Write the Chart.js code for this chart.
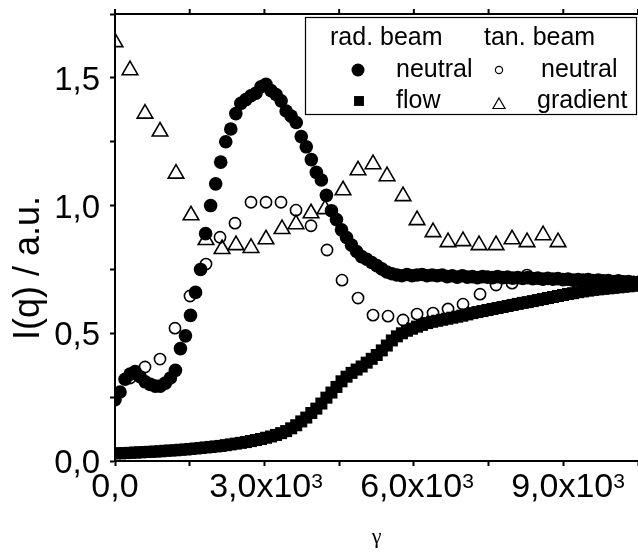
<!DOCTYPE html>
<html>
<head>
<meta charset="utf-8">
<script src="https://cdn.jsdelivr.net/npm/chart.js@4.4.1/dist/chart.umd.min.js"></script>
<style>
  html, body { margin: 0; padding: 0; background: #fff; }
</style>
</head>
<body>
<canvas id="intensity-chart" width="638" height="556"></canvas>
<script>
// radial beam, neutral direction (dense series)
const radNeutralX = [
  0, 100, 200, 300, 400, 500, 600, 700, 800, 900,
  1000, 1100, 1200, 1300, 1400, 1500, 1600, 1700, 1800, 1900,
  2000, 2100, 2200, 2300, 2400, 2500, 2600, 2700, 2800, 2900,
  3000, 3100, 3200, 3300, 3400, 3500, 3600, 3700, 3800, 3900,
  4000, 4100, 4200, 4300, 4400, 4500, 4600, 4700, 4800, 4900,
  5000, 5100, 5200, 5300, 5400, 5500, 5600, 5700, 5800, 5900,
  6000, 6100, 6200, 6300, 6400, 6500, 6600, 6700, 6800, 6900,
  7000, 7100, 7200, 7300, 7400, 7500, 7600, 7700, 7800, 7900,
  8000, 8100, 8200, 8300, 8400, 8500, 8600, 8700, 8800, 8900,
  9000, 9100, 9200, 9300, 9400, 9500, 9600, 9700, 9800, 9900,
  10000, 10100, 10200, 10300, 10400
];
const radNeutralY = [
  0.24, 0.27, 0.32, 0.34, 0.35, 0.33, 0.31, 0.30, 0.293, 0.293,
  0.305, 0.325, 0.355, 0.44, 0.49, 0.57, 0.66, 0.75, 0.89, 1.00,
  1.085, 1.17, 1.25, 1.30, 1.36, 1.40, 1.415, 1.43, 1.44, 1.465,
  1.475, 1.45, 1.435, 1.41, 1.37, 1.35, 1.325, 1.27, 1.23, 1.18,
  1.13, 1.10, 1.04, 0.98, 0.945, 0.905, 0.875, 0.845, 0.82, 0.80,
  0.79, 0.777, 0.765, 0.752, 0.74, 0.733, 0.728, 0.725, 0.73, 0.725,
  0.728, 0.73, 0.725, 0.728, 0.725, 0.728, 0.722, 0.725, 0.72, 0.725,
  0.72, 0.722, 0.718, 0.722, 0.72, 0.718, 0.722, 0.718, 0.72, 0.716,
  0.718, 0.715, 0.718, 0.714, 0.716, 0.712, 0.715, 0.712, 0.714, 0.71,
  0.712, 0.708, 0.71, 0.708, 0.71, 0.706, 0.708, 0.705, 0.706, 0.703,
  0.705, 0.702, 0.703, 0.70, 0.70
];

// radial beam, flow direction
const radFlowX = radNeutralX;
const radFlowY = [
  0.030, 0.030, 0.031, 0.032, 0.033, 0.034, 0.035, 0.036, 0.037, 0.038,
  0.040, 0.041, 0.042, 0.044, 0.045, 0.047, 0.049, 0.051, 0.053, 0.055,
  0.057, 0.059, 0.062, 0.065, 0.068, 0.071, 0.074, 0.078, 0.082, 0.086,
  0.091, 0.096, 0.102, 0.109, 0.117, 0.128, 0.140, 0.155, 0.170, 0.188,
  0.205, 0.225, 0.248, 0.268, 0.290, 0.312, 0.330, 0.345, 0.358, 0.370,
  0.385, 0.400, 0.415, 0.433, 0.452, 0.472, 0.488, 0.500, 0.510, 0.518,
  0.526, 0.533, 0.540, 0.545, 0.549, 0.553, 0.557, 0.561, 0.565, 0.569,
  0.574, 0.579, 0.583, 0.587, 0.591, 0.595, 0.599, 0.603, 0.607, 0.611,
  0.615, 0.619, 0.622, 0.626, 0.630, 0.634, 0.638, 0.642, 0.646, 0.650,
  0.654, 0.657, 0.661, 0.664, 0.667, 0.670, 0.672, 0.674, 0.676, 0.678,
  0.680, 0.682, 0.684, 0.686, 0.688
];

// tangential beam, neutral direction
const tanNeutralX = [298, 596, 894, 1192, 1490, 1808, 2086, 2384, 2702, 3000, 3298, 3596, 3894, 4212,
                     4510, 4828, 5126, 5424, 5722, 6001, 6318, 6616, 6914, 7252, 7570, 7888, 8186];
const tanNeutralY = [0.325, 0.368, 0.399, 0.520, 0.646, 0.771, 0.876, 0.931, 1.013, 1.013, 1.013, 0.982, 0.921, 0.826,
                     0.708, 0.638, 0.571, 0.567, 0.552, 0.575, 0.579, 0.595, 0.614, 0.653, 0.689, 0.696, 0.728];

// tangential beam, gradient direction
const tanGradX = [0, 298, 596, 894, 1212, 1510, 1808, 2126, 2404, 2702, 3000, 3318, 3596, 3894, 4172,
                  4530, 4828, 5126, 5404, 5722, 6001, 6318, 6616, 6914, 7232, 7570, 7888, 8186, 8504, 8802];
const tanGradY = [1.64, 1.53, 1.36, 1.29, 1.125, 0.962, 0.865, 0.83, 0.845, 0.834, 0.868, 0.908, 0.927, 0.97, 0.986,
                  1.06, 1.138, 1.162, 1.115, 1.037, 0.943, 0.896, 0.857, 0.861, 0.845, 0.845, 0.868, 0.857, 0.884, 0.857];

// tick labels: mantissa and exponent for the x axis
const xTicks = [0, 3000, 6000, 9000];
const xTickText = ['0,0', '3,0x10', '6,0x10', '9,0x10'];
const xTickExp = ['', '3', '3', '3'];
const yTicks = [0, 0.5, 1.0, 1.5];
const yTickLabels = ['0,0', '0,5', '1,0', '1,5'];

const SANS = "'Liberation Sans', Arial, sans-serif";

function pts(xs, ys) {
  return xs.map((x, i) => ({ x: x, y: ys[i] }));
}

// tick labels, top frame, legend box and axis titles
const annotations = {
  id: 'annotations',
  afterDraw(chart) {
    const ctx = chart.ctx;
    const area = chart.chartArea;
    const sx = chart.scales.x;
    const sy = chart.scales.y;
    const draw = Chart.helpers.drawPoint;
    ctx.save();

    // top frame line with outward ticks
    ctx.strokeStyle = '#000';
    ctx.lineWidth = 2;
    ctx.beginPath();
    ctx.moveTo(area.left - 1, area.top);
    ctx.lineTo(area.right, area.top);
    sx.ticks.forEach((t) => {
      const px = sx.getPixelForValue(t.value);
      ctx.moveTo(px, area.top);
      ctx.lineTo(px, area.top - 5);
    });
    ctx.stroke();

    // x tick labels with raised exponent
    ctx.fillStyle = '#000';
    ctx.textBaseline = 'alphabetic';
    ctx.textAlign = 'left';
    xTicks.forEach((v, i) => {
      const px = sx.getPixelForValue(v);
      ctx.font = '34px ' + SANS;
      const w1 = ctx.measureText(xTickText[i]).width;
      ctx.font = '21px ' + SANS;
      const w2 = xTickExp[i] ? ctx.measureText(xTickExp[i]).width : 0;
      const x0 = px - (w1 + w2) / 2;
      ctx.font = '34px ' + SANS;
      ctx.fillText(xTickText[i], x0, 497);
      if (xTickExp[i]) {
        ctx.font = '21px ' + SANS;
        ctx.fillText(xTickExp[i], x0 + w1, 488);
      }
    });

    // y tick labels
    ctx.font = '33px ' + SANS;
    ctx.textAlign = 'right';
    yTicks.forEach((v, i) => {
      ctx.fillText(yTickLabels[i], 100, sy.getPixelForValue(v) + 12);
    });

    // legend frame
    ctx.fillStyle = '#fff';
    ctx.fillRect(305, 17, 332, 98);
    ctx.strokeStyle = '#000';
    ctx.lineWidth = 1.2;
    ctx.strokeRect(305.5, 17.5, 331, 97);

    ctx.fillStyle = '#000';
    ctx.font = '25px ' + SANS;
    ctx.textAlign = 'left';
    ctx.fillText('rad. beam', 330, 45);
    ctx.fillText('tan. beam', 484, 45);
    ctx.fillText('neutral', 396, 77);
    ctx.fillText('neutral', 541, 77);
    ctx.fillText('flow', 396, 108);
    ctx.fillText('gradient', 537, 108);

    draw(ctx, { pointStyle: 'circle', radius: 6.5, borderWidth: 0, rotation: 0 }, 358, 70);
    draw(ctx, { pointStyle: 'rect', radius: 7, borderWidth: 0, rotation: 0 }, 359, 101);
    ctx.fillStyle = 'rgba(0,0,0,0)';
    ctx.lineWidth = 1.2;
    draw(ctx, { pointStyle: 'circle', radius: 3.6, borderWidth: 1.2, rotation: 0 }, 499, 70);
    draw(ctx, { pointStyle: 'triangle', radius: 7, borderWidth: 1.2, rotation: 0 }, 499, 105);

    // axis titles
    ctx.fillStyle = '#000';
    ctx.font = '22px "Liberation Serif", "Times New Roman", serif';
    ctx.textAlign = 'center';
    ctx.fillText('γ', (area.left + area.right) / 2, 543);

    ctx.translate(39, 268);
    ctx.rotate(-Math.PI / 2);
    ctx.font = '36px ' + SANS;
    ctx.fillText('I(q) / a.u.', 0, 0);
    ctx.restore();
  }
};

const axisGrid = {
  display: true,
  drawOnChartArea: false,
  drawTicks: true,
  tickLength: 5,
  tickWidth: 2,
  tickColor: '#000'
};
const axisBorder = { display: true, color: '#000', width: 2 };

new Chart(document.getElementById('intensity-chart'), {
  type: 'scatter',
  data: {
    datasets: [
      {
        label: 'rad. beam neutral',
        data: pts(radNeutralX, radNeutralY),
        pointStyle: 'circle',
        pointRadius: 6.8,
        pointBorderWidth: 0,
        backgroundColor: '#000',
        borderColor: '#000'
      }, {
        label: 'rad. beam flow',
        data: pts(radFlowX, radFlowY),
        pointStyle: 'rect',
        pointRadius: 8.5,
        pointBorderWidth: 0,
        backgroundColor: '#000',
        borderColor: '#000'
      }, {
        label: 'tan. beam neutral',
        data: pts(tanNeutralX, tanNeutralY),
        pointStyle: 'circle',
        pointRadius: 5.6,
        pointBorderWidth: 1.6,
        backgroundColor: 'rgba(255,255,255,0)',
        borderColor: '#000'
      }, {
        label: 'tan. beam gradient',
        data: pts(tanGradX, tanGradY),
        pointStyle: 'triangle',
        pointRadius: 9,
        pointBorderWidth: 1.6,
        backgroundColor: 'rgba(255,255,255,0)',
        borderColor: '#000'
      }
    ]
  },
  options: {
    responsive: false,
    animation: false,
    layout: { autoPadding: false, padding: { top: 14, right: 0, bottom: 0, left: 0 } },
    plugins: {
      legend: { display: false },
      tooltip: { enabled: false }
    },
    scales: {
      x: {
        type: 'linear',
        position: 'bottom',
        min: 0,
        max: 10390,
        grid: axisGrid,
        border: axisBorder,
        ticks: { display: false, stepSize: 1500, includeBounds: false },
        afterFit: (scale) => { scale.height = 95; }
      },
      y: {
        type: 'linear',
        min: 0,
        max: 1.75,
        grid: axisGrid,
        border: axisBorder,
        ticks: { display: false, stepSize: 0.25 },
        afterFit: (scale) => { scale.width = 115; }
      }
    }
  },
  plugins: [annotations]
});
</script>
</body>
</html>
